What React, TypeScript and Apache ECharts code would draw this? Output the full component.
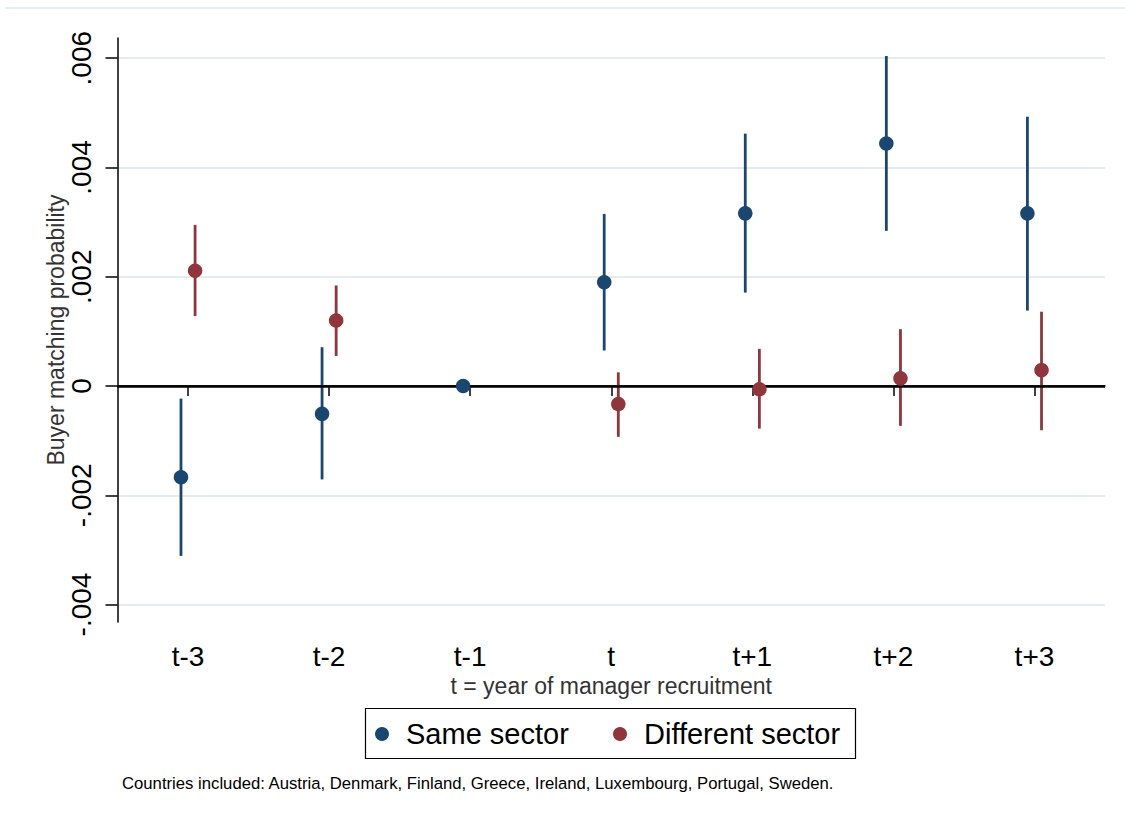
import React, { useEffect, useRef } from "react";
import * as echarts from "echarts";

// ---- data ----
const CATEGORIES = ["t-3", "t-2", "t-1", "t", "t+1", "t+2", "t+3"];
const SAME_EST = [-0.00167, -0.00051, 0, 0.0019, 0.00316, 0.00444, 0.00316];
const SAME_LO = [-0.00311, -0.00171, 0, 0.00065, 0.00171, 0.00284, 0.00138];
const SAME_HI = [-0.00023, 0.00071, 0, 0.00315, 0.00462, 0.00604, 0.00493];
const DIFF_EST = [0.00211, 0.0012, null, -0.00033, -0.00006, 0.00014, 0.00029];
const DIFF_LO = [0.00128, 0.00055, null, -0.00093, -0.00078, -0.00073, -0.00081];
const DIFF_HI = [0.00295, 0.00184, null, 0.00025, 0.00068, 0.00104, 0.00136];
const Y_TICKS_MIN = -0.004;
const Y_TICKS_MAX = 0.006;
const Y_TICK_STEP = 0.002;
const Y_MIN = -0.00432;
const Y_MAX = 0.00637;
const SERIES_NAMES = ["Same sector", "Different sector"];
const X_TITLE = "t = year of manager recruitment";
const Y_TITLE = "Buyer matching probability";
const NOTE =
  "Countries included: Austria, Denmark, Finland, Greece, Ireland, Luxembourg, Portugal, Sweden.";

// ---- style ----
const BLUE = "#1a476f";
const RED = "#90353b";
const GRID_COLOR = "#e4ecef";
const FONT = "'Liberation Sans', Arial, Helvetica, sans-serif";
const W = 1125;
const H = 819;
const PLOT_LEFT = 117.5;
const PLOT_RIGHT = 1105;
const PLOT_TOP = 38;
const PLOT_BOTTOM = 622;
const OFFSET = 0.05;

function fmt(v: number) {
  if (Math.abs(v) < 1e-12) return "0";
  const s = Math.abs(v).toFixed(3).replace(/^0/, "");
  return (v < 0 ? "-" : "") + s;
}

export default function App() {
  const ref = useRef<HTMLDivElement>(null);
  useEffect(() => {
    if (!ref.current) return;
    const chart = echarts.init(ref.current, null, { renderer: "svg", width: W, height: H });

    const plotH = PLOT_BOTTOM - PLOT_TOP;
    const pxPer = plotH / (Y_MAX - Y_MIN);
    const tickTop = PLOT_TOP + (Y_MAX - Y_TICKS_MAX) * pxPer;
    const tickBottom = PLOT_BOTTOM - (Y_TICKS_MIN - Y_MIN) * pxPer;

    const pts = (est: (number | null)[], off: number) =>
      est
        .map((v, i) => (v == null ? null : [i + 1 + off, v]))
        .filter((d) => d != null);
    const bars = (lo: (number | null)[], hi: (number | null)[], off: number) =>
      lo
        .map((v, i) => (v == null || hi[i] == null ? null : [i + 1 + off, v, hi[i]]))
        .filter((d) => d != null);

    const errRender = (color: string) => (params: any, api: any) => {
      const x = api.value(0);
      const p1 = api.coord([x, api.value(1)]);
      const p2 = api.coord([x, api.value(2)]);
      return {
        type: "line",
        shape: { x1: p1[0], y1: p1[1], x2: p2[0], y2: p2[1] },
        style: { stroke: color, lineWidth: 2.8 },
      };
    };

    const grid = { left: PLOT_LEFT, right: W - PLOT_RIGHT };

    chart.setOption({
      animation: false,
      backgroundColor: "#ffffff",
      textStyle: { fontFamily: FONT },
      grid: [
        { ...grid, top: PLOT_TOP, bottom: H - PLOT_BOTTOM },
        { ...grid, top: tickTop, bottom: H - tickBottom },
      ],
      xAxis: [
        {
          type: "category",
          gridIndex: 0,
          data: CATEGORIES,
          boundaryGap: true,
          name: X_TITLE,
          nameLocation: "middle",
          nameGap: 47,
          nameTextStyle: { fontSize: 23, color: "#333", fontFamily: FONT },
          axisLine: { show: true, lineStyle: { color: "#000", width: 1.5 } },
          axisTick: { show: true, alignWithLabel: true, length: 10, lineStyle: { color: "#000", width: 1.5 } },
          axisLabel: { fontSize: 28, color: "#000", margin: 20, fontFamily: FONT },
          splitLine: { show: false },
        },
        { type: "value", gridIndex: 0, min: 0.5, max: 7.5, show: false },
        { type: "value", gridIndex: 1, min: 0, max: 1, show: false },
      ],
      yAxis: [
        {
          type: "value",
          gridIndex: 0,
          min: Y_MIN,
          max: Y_MAX,
          name: Y_TITLE,
          nameLocation: "middle",
          nameGap: 50,
          nameTextStyle: { fontSize: 23, color: "#333", fontFamily: FONT },
          axisLine: { show: true, lineStyle: { color: "#000", width: 1.5 } },
          axisTick: { show: false },
          axisLabel: { show: false },
          splitLine: { show: false },
        },
        {
          type: "value",
          gridIndex: 1,
          min: Y_TICKS_MIN,
          max: Y_TICKS_MAX,
          interval: Y_TICK_STEP,
          axisLine: { show: false },
          axisTick: { show: true, length: 12, lineStyle: { color: "#000", width: 1.5 } },
          axisLabel: {
            rotate: 90,
            fontSize: 28,
            color: "#000",
            margin: 22,
            fontFamily: FONT,
            formatter: (v: number) => fmt(v),
          },
          splitLine: { show: true, lineStyle: { color: GRID_COLOR, width: 2 } },
        },
      ],
      series: [
        {
          type: "line",
          xAxisIndex: 1,
          yAxisIndex: 0,
          data: [],
          z: 2,
          silent: true,
          markLine: {
            silent: true,
            symbol: "none",
            label: { show: false },
            lineStyle: { color: "#000", width: 2.5, type: "solid" },
            data: [{ yAxis: 0 }],
          },
        },
        {
          type: "custom",
          name: SERIES_NAMES[0] + " CI",
          xAxisIndex: 1,
          yAxisIndex: 0,
          z: 4,
          encode: { x: 0, y: [1, 2] },
          data: bars(SAME_LO, SAME_HI, -OFFSET),
          renderItem: errRender(BLUE),
        },
        {
          type: "custom",
          name: SERIES_NAMES[1] + " CI",
          xAxisIndex: 1,
          yAxisIndex: 0,
          z: 4,
          encode: { x: 0, y: [1, 2] },
          data: bars(DIFF_LO, DIFF_HI, OFFSET),
          renderItem: errRender(RED),
        },
        {
          type: "scatter",
          name: SERIES_NAMES[0],
          xAxisIndex: 1,
          yAxisIndex: 0,
          z: 5,
          symbol: "circle",
          symbolSize: 14.5,
          itemStyle: { color: BLUE, opacity: 1 },
          data: pts(SAME_EST, -OFFSET),
        },
        {
          type: "scatter",
          name: SERIES_NAMES[1],
          xAxisIndex: 1,
          yAxisIndex: 0,
          z: 5,
          symbol: "circle",
          symbolSize: 14.5,
          itemStyle: { color: RED, opacity: 1 },
          data: pts(DIFF_EST, OFFSET),
        },
      ],
      graphic: [
        {
          type: "line",
          shape: { x1: 5, y1: 8, x2: W, y2: 8 },
          style: { stroke: "#dfe8ec", lineWidth: 1.5 },
          silent: true,
        },
        {
          type: "rect",
          shape: { x: 365.5, y: 708.5, width: 490, height: 50 },
          style: { fill: "#fff", stroke: "#000", lineWidth: 1.2 },
          silent: true,
        },
        { type: "circle", shape: { cx: 382, cy: 734, r: 7 }, style: { fill: BLUE } },
        {
          type: "text",
          x: 406,
          y: 734,
          style: {
            text: SERIES_NAMES[0],
            fontSize: 29,
            fontFamily: FONT,
            fill: "#000",
            verticalAlign: "middle",
            align: "left",
          },
        },
        { type: "circle", shape: { cx: 620, cy: 734, r: 7 }, style: { fill: RED } },
        {
          type: "text",
          x: 644,
          y: 734,
          style: {
            text: SERIES_NAMES[1],
            fontSize: 29,
            fontFamily: FONT,
            fill: "#000",
            verticalAlign: "middle",
            align: "left",
          },
        },
        {
          type: "text",
          x: 122,
          y: 783,
          style: {
            text: NOTE,
            fontSize: 16.7,
            fontFamily: FONT,
            fill: "#000",
            verticalAlign: "middle",
            align: "left",
          },
        },
      ],
    });
    return () => chart.dispose();
  }, []);
  return (
    <div
      ref={ref}
      style={{ position: "absolute", left: 0, top: 0, width: W, height: H, background: "#fff" }}
    />
  );
}
